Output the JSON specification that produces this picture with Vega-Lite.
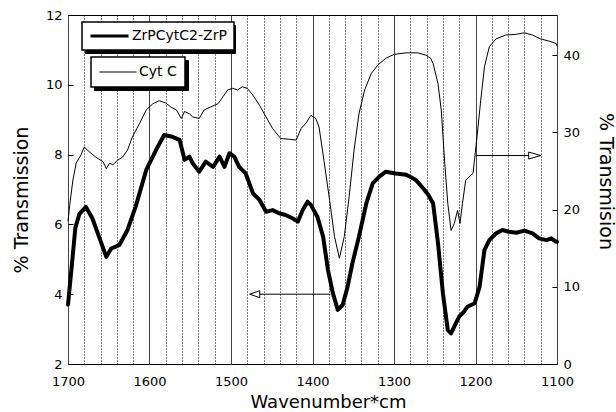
{
  "$schema": "https://vega.github.io/schema/vega-lite/v6.json",
  "width": 489,
  "height": 349,
  "autosize": {"type": "none"},
  "padding": {"left": 68, "top": 15, "right": 59, "bottom": 48},
  "background": "white",
  "config": {
    "font": "DejaVu Sans",
    "view": {"stroke": "black", "strokeWidth": 1},
    "axis": {"labelFont": "DejaVu Sans", "labelFontSize": 13, "labelColor": "black", "titleFont": "DejaVu Sans", "titleColor": "black", "titleFontWeight": "normal"}
  },
  "datasets": {
    "zrp": [
      {"w": 1700, "t": 3.7}, {"w": 1695, "t": 4.9}, {"w": 1691, "t": 5.9}, {"w": 1686, "t": 6.3}, {"w": 1678, "t": 6.5},
      {"w": 1670, "t": 6.17}, {"w": 1662, "t": 5.65}, {"w": 1653, "t": 5.07}, {"w": 1647, "t": 5.31}, {"w": 1640, "t": 5.38},
      {"w": 1637, "t": 5.41}, {"w": 1627, "t": 5.84}, {"w": 1617, "t": 6.51}, {"w": 1604, "t": 7.56}, {"w": 1592, "t": 8.13},
      {"w": 1582, "t": 8.56}, {"w": 1572, "t": 8.51}, {"w": 1563, "t": 8.42}, {"w": 1557, "t": 7.85}, {"w": 1551, "t": 7.94},
      {"w": 1547, "t": 7.75}, {"w": 1539, "t": 7.51}, {"w": 1531, "t": 7.8}, {"w": 1522, "t": 7.65}, {"w": 1514, "t": 7.94},
      {"w": 1508, "t": 7.65}, {"w": 1502, "t": 8.04}, {"w": 1496, "t": 7.94}, {"w": 1490, "t": 7.65}, {"w": 1482, "t": 7.46},
      {"w": 1473, "t": 6.89}, {"w": 1465, "t": 6.7}, {"w": 1457, "t": 6.36}, {"w": 1449, "t": 6.41}, {"w": 1441, "t": 6.32},
      {"w": 1433, "t": 6.27}, {"w": 1424, "t": 6.17}, {"w": 1418, "t": 6.08}, {"w": 1412, "t": 6.41}, {"w": 1406, "t": 6.65},
      {"w": 1402, "t": 6.56}, {"w": 1394, "t": 6.22}, {"w": 1387, "t": 5.65}, {"w": 1381, "t": 4.69}, {"w": 1375, "t": 4.03},
      {"w": 1369, "t": 3.55}, {"w": 1363, "t": 3.69}, {"w": 1357, "t": 4.21}, {"w": 1351, "t": 4.89}, {"w": 1343, "t": 5.65},
      {"w": 1334, "t": 6.6}, {"w": 1326, "t": 7.18}, {"w": 1318, "t": 7.37}, {"w": 1310, "t": 7.51}, {"w": 1298, "t": 7.46},
      {"w": 1285, "t": 7.42}, {"w": 1273, "t": 7.27}, {"w": 1263, "t": 7.0}, {"w": 1258, "t": 6.85}, {"w": 1252, "t": 6.6},
      {"w": 1246, "t": 5.46}, {"w": 1240, "t": 4.03}, {"w": 1234, "t": 2.97}, {"w": 1230, "t": 2.88}, {"w": 1224, "t": 3.17},
      {"w": 1220, "t": 3.36}, {"w": 1214, "t": 3.5}, {"w": 1210, "t": 3.64}, {"w": 1201, "t": 3.74}, {"w": 1195, "t": 4.21},
      {"w": 1189, "t": 5.27}, {"w": 1183, "t": 5.55}, {"w": 1175, "t": 5.74}, {"w": 1167, "t": 5.84}, {"w": 1159, "t": 5.79},
      {"w": 1150, "t": 5.76}, {"w": 1140, "t": 5.82}, {"w": 1130, "t": 5.74}, {"w": 1122, "t": 5.6}, {"w": 1113, "t": 5.55},
      {"w": 1107, "t": 5.6}, {"w": 1101, "t": 5.5}, {"w": 1100, "t": 5.5}
    ],
    "cytc": [
      {"w": 1700, "t": 18.5}, {"w": 1698, "t": 20.5}, {"w": 1694, "t": 23.8}, {"w": 1690, "t": 26.0}, {"w": 1684, "t": 27.1},
      {"w": 1680, "t": 28.1}, {"w": 1674, "t": 27.5}, {"w": 1666, "t": 26.8}, {"w": 1657, "t": 26.2}, {"w": 1653, "t": 25.3},
      {"w": 1649, "t": 26.0}, {"w": 1645, "t": 25.8}, {"w": 1639, "t": 26.4}, {"w": 1633, "t": 26.8}, {"w": 1627, "t": 27.7},
      {"w": 1621, "t": 29.4}, {"w": 1612, "t": 31.2}, {"w": 1604, "t": 32.9}, {"w": 1596, "t": 33.7}, {"w": 1588, "t": 34.1},
      {"w": 1580, "t": 33.8}, {"w": 1574, "t": 33.3}, {"w": 1567, "t": 32.9}, {"w": 1561, "t": 31.8}, {"w": 1557, "t": 32.7},
      {"w": 1551, "t": 32.4}, {"w": 1547, "t": 32.0}, {"w": 1539, "t": 31.8}, {"w": 1533, "t": 32.9}, {"w": 1525, "t": 33.3},
      {"w": 1516, "t": 33.7}, {"w": 1510, "t": 34.6}, {"w": 1504, "t": 35.5}, {"w": 1498, "t": 35.7}, {"w": 1492, "t": 35.5},
      {"w": 1486, "t": 35.9}, {"w": 1480, "t": 35.7}, {"w": 1473, "t": 34.8}, {"w": 1465, "t": 33.5}, {"w": 1457, "t": 32.0},
      {"w": 1449, "t": 30.5}, {"w": 1439, "t": 29.2}, {"w": 1428, "t": 29.1}, {"w": 1420, "t": 29.0}, {"w": 1414, "t": 30.5},
      {"w": 1408, "t": 31.2}, {"w": 1402, "t": 32.2}, {"w": 1396, "t": 31.8}, {"w": 1392, "t": 30.7}, {"w": 1386, "t": 26.4},
      {"w": 1379, "t": 21.2}, {"w": 1373, "t": 16.5}, {"w": 1367, "t": 13.7}, {"w": 1361, "t": 16.5}, {"w": 1355, "t": 21.7},
      {"w": 1349, "t": 27.7}, {"w": 1343, "t": 32.4}, {"w": 1336, "t": 35.5}, {"w": 1328, "t": 37.6}, {"w": 1320, "t": 38.7},
      {"w": 1310, "t": 39.6}, {"w": 1300, "t": 40.1}, {"w": 1285, "t": 40.3}, {"w": 1271, "t": 40.3}, {"w": 1261, "t": 40.0},
      {"w": 1255, "t": 39.6}, {"w": 1252, "t": 38.9}, {"w": 1246, "t": 36.3}, {"w": 1242, "t": 32.9}, {"w": 1238, "t": 26.4},
      {"w": 1234, "t": 20.8}, {"w": 1230, "t": 17.3}, {"w": 1226, "t": 18.2}, {"w": 1222, "t": 19.9}, {"w": 1219, "t": 18.2},
      {"w": 1216, "t": 20.8}, {"w": 1212, "t": 23.8}, {"w": 1208, "t": 24.2}, {"w": 1203, "t": 24.7}, {"w": 1199, "t": 28.6},
      {"w": 1194, "t": 33.7}, {"w": 1189, "t": 38.5}, {"w": 1183, "t": 41.1}, {"w": 1175, "t": 42.1}, {"w": 1163, "t": 42.6},
      {"w": 1150, "t": 42.7}, {"w": 1140, "t": 42.9}, {"w": 1130, "t": 42.6}, {"w": 1120, "t": 42.1}, {"w": 1109, "t": 41.8},
      {"w": 1101, "t": 41.5}, {"w": 1100, "t": 41.2}
    ],
    "arrows": [
      {"side": "left", "w": 1477, "w2": 1378, "t": 4},
      {"side": "right", "w": 1120, "w2": 1200, "t": 27}
    ]
  },
  "encoding": {
    "x": {
      "field": "w", "type": "quantitative",
      "scale": {"domain": [1100, 1700], "reverse": true, "nice": false, "zero": false},
      "axis": {
        "orient": "bottom",
        "values": [1100, 1120, 1140, 1160, 1180, 1200, 1220, 1240, 1260, 1280, 1300, 1320, 1340, 1360, 1380, 1400, 1420, 1440, 1460, 1480, 1500, 1520, 1540, 1560, 1580, 1600, 1620, 1640, 1660, 1680, 1700],
        "format": "d",
        "labelExpr": "datum.value % 100 === 0 ? datum.label : ''",
        "labelOverlap": false,
        "labelFlush": false,
        "labelPadding": 11,
        "ticks": false,
        "domain": false,
        "grid": true,
        "gridColor": {"condition": {"test": "datum.value % 100 === 0", "value": "#444444"}, "value": "black"},
        "gridWidth": 1,
        "gridOpacity": 1,
        "gridDash": {"condition": {"test": "datum.value % 100 === 0", "value": []}, "value": [1, 2]},
        "title": "Wavenumber*cm",
        "titleFontSize": 18,
        "titleX": 260,
        "titleY": 43,
        "titleAlign": "center",
        "titleBaseline": "alphabetic"
      }
    }
  },
  "layer": [
    {
      "data": {"name": "zrp"},
      "mark": {"type": "line", "opacity": 0},
      "encoding": {
        "y": {"field": "t", "type": "quantitative", "scale": {"domain": [2, 12], "nice": false, "zero": false}, "axis": null},
        "color": {
          "datum": "ZrPCytC2-ZrP", "type": "nominal",
          "scale": {"range": ["black"]},
          "legend": {
            "title": null, "orient": "none", "legendX": 17, "legendY": 10,
            "symbolType": "stroke", "symbolStrokeWidth": 3, "symbolSize": 17689, "symbolStrokeColor": "black",
            "labelExpr": "''", "labelOffset": 0, "labelFontSize": 14,
            "padding": 7, "clipHeight": 14, "strokeColor": "black", "fillColor": "black"
          }
        }
      }
    },
    {
      "data": {"name": "cytc"},
      "mark": {"type": "line", "opacity": 0},
      "encoding": {
        "y": {"field": "t", "type": "quantitative", "scale": {"domain": [0, 45.2], "nice": false, "zero": false}, "axis": null},
        "color": {
          "datum": "Cyt C", "type": "nominal",
          "scale": {"range": ["black"]},
          "legend": {
            "title": null, "orient": "none", "legendX": 26, "legendY": 45,
            "symbolType": "stroke", "symbolStrokeWidth": 1, "symbolSize": 5929, "symbolStrokeColor": "black",
            "labelExpr": "''", "labelOffset": 0, "labelFontSize": 14,
            "padding": 8, "clipHeight": 14, "strokeColor": "black", "fillColor": "black"
          }
        }
      }
    },
    {
      "encoding": {
        "y": {
          "field": "t", "type": "quantitative",
          "scale": {"domain": [2, 12], "nice": false, "zero": false},
          "axis": {
            "orient": "left",
            "values": [2, 4, 6, 8, 10, 12],
            "grid": false,
            "domain": false,
            "tickSize": -5,
            "tickColor": "black",
            "labelPadding": 11,
            "title": "% Transmission",
            "titleFontSize": 19,
            "titleAngle": -90,
            "titleX": -41,
            "titleY": 184.5,
            "titleAlign": "center",
            "titleBaseline": "alphabetic"
          }
        }
      },
      "layer": [
        {
          "data": {"name": "zrp"},
          "mark": {"type": "line", "strokeWidth": 4, "strokeJoin": "round", "strokeCap": "round"},
          "encoding": {
            "color": {
              "datum": "ZrPCytC2-ZrP", "type": "nominal",
              "scale": {"range": ["black"]},
              "legend": {
                "title": null, "orient": "none", "legendX": 14, "legendY": 7,
                "symbolType": "stroke", "symbolStrokeWidth": 3, "symbolSize": 1444, "symbolStrokeColor": "black",
                "labelFontSize": 14, "labelFont": "DejaVu Sans", "labelColor": "black", "labelOffset": 2,
                "padding": 7, "clipHeight": 14, "strokeColor": "black", "fillColor": "white",
                "encode": {"legend": {"update": {"strokeWidth": {"value": 1.5}}}}
              }
            }
          }
        },
        {
          "data": {"name": "arrows"},
          "transform": [{"filter": "datum.side === 'left'"}],
          "mark": {"type": "rule", "color": "black", "strokeWidth": 1},
          "encoding": {"x2": {"field": "w2"}}
        },
        {
          "data": {"name": "arrows"},
          "transform": [{"filter": "datum.side === 'left'"}],
          "mark": {"type": "point", "shape": "M 0 0 L 2 -0.7 L 2 0.7 Z", "size": 100, "filled": true, "fill": "white", "stroke": "black", "strokeWidth": 1, "opacity": 1}
        }
      ]
    },
    {
      "encoding": {
        "y": {
          "field": "t", "type": "quantitative",
          "scale": {"domain": [0, 45.2], "nice": false, "zero": false},
          "axis": {
            "orient": "right",
            "values": [0, 10, 20, 30, 40],
            "grid": false,
            "domain": false,
            "tickSize": -5,
            "tickColor": "black",
            "labelPadding": 11,
            "title": "% Transmision",
            "titleFontSize": 19,
            "titleAngle": 90,
            "titleX": 42,
            "titleY": 166,
            "titleAlign": "center",
            "titleBaseline": "alphabetic"
          }
        }
      },
      "layer": [
        {
          "data": {"name": "cytc"},
          "mark": {"type": "line", "strokeWidth": 1},
          "encoding": {
            "color": {
              "datum": "Cyt C", "type": "nominal",
              "scale": {"range": ["black"]},
              "legend": {
                "title": null, "orient": "none", "legendX": 23, "legendY": 42,
                "symbolType": "stroke", "symbolStrokeWidth": 1, "symbolSize": 1369, "symbolStrokeColor": "black",
                "labelFontSize": 14, "labelFont": "DejaVu Sans", "labelColor": "black", "labelOffset": 2,
                "padding": 8, "clipHeight": 14, "strokeColor": "black", "fillColor": "white",
                "encode": {"legend": {"update": {"strokeWidth": {"value": 1.5}}}}
              }
            }
          }
        },
        {
          "data": {"name": "arrows"},
          "transform": [{"filter": "datum.side === 'right'"}],
          "mark": {"type": "rule", "color": "black", "strokeWidth": 1},
          "encoding": {"x2": {"field": "w2"}}
        },
        {
          "data": {"name": "arrows"},
          "transform": [{"filter": "datum.side === 'right'"}],
          "mark": {"type": "point", "shape": "M 0 0 L -2.4 -0.7 L -2.4 0.7 Z", "size": 100, "filled": true, "fill": "white", "stroke": "black", "strokeWidth": 1, "opacity": 1}
        }
      ]
    }
  ],
  "resolve": {"scale": {"y": "independent", "color": "independent"}}
}
